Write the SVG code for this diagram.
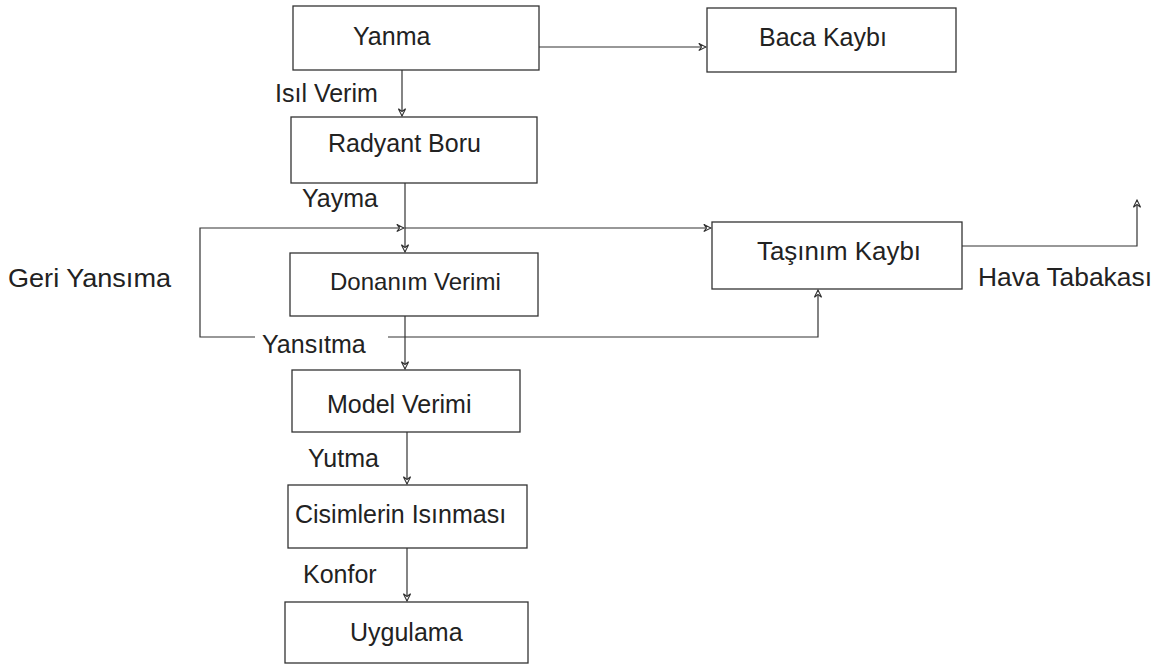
<svg xmlns="http://www.w3.org/2000/svg" width="1171" height="670" viewBox="0 0 1171 670">
<style>
.box{fill:#fff;stroke:#333;stroke-width:1.3}
.ln{fill:none;stroke:#333;stroke-width:1.2}
.t{font-family:"Liberation Sans",Arial,sans-serif;font-size:25px;fill:#222}
</style>
<defs>
<marker id="ah" viewBox="0 0 10 10" refX="9" refY="5" markerWidth="9" markerHeight="9" orient="auto" markerUnits="userSpaceOnUse">
<path d="M1,1 L9,5 L1,9 L4,5 Z" fill="#fff" stroke="#333" stroke-width="1.2"/>
</marker>
</defs>
<rect width="1171" height="670" fill="#fff"/>
<g id="connectors">
<line class="ln" x1="539" y1="47" x2="706" y2="47" marker-end="url(#ah)"/>
<line class="ln" x1="402" y1="70" x2="402" y2="116" marker-end="url(#ah)"/>
<line class="ln" x1="405" y1="183" x2="405" y2="252" marker-end="url(#ah)"/>
<polyline class="ln" points="255,337 200,337 200,228 404,228" marker-end="url(#ah)"/>
<line class="ln" x1="405" y1="228" x2="711" y2="228" marker-end="url(#ah)"/>
<polyline class="ln" points="388,337 818,337 818,290" marker-end="url(#ah)"/>
<line class="ln" x1="405" y1="316" x2="405" y2="369" marker-end="url(#ah)"/>
<line class="ln" x1="407" y1="432" x2="407" y2="484" marker-end="url(#ah)"/>
<line class="ln" x1="407" y1="548" x2="407" y2="601" marker-end="url(#ah)"/>
<polyline class="ln" points="962,246 1137,246 1137,200" marker-end="url(#ah)"/>
</g>
<g id="yanma"><rect class="box" x="293" y="6" width="246" height="64"/><text class="t" x="353" y="45">Yanma</text></g>
<g id="baca"><rect class="box" x="707" y="8" width="249" height="64"/><text class="t" x="759" y="46">Baca Kaybı</text></g>
<g id="radyant"><rect class="box" x="291" y="117" width="246" height="66"/><text class="t" x="328" y="152">Radyant Boru</text></g>
<g id="donanim"><rect class="box" x="290" y="253" width="248" height="63"/><text class="t" x="330" y="290" style="font-size:24px">Donanım Verimi</text></g>
<g id="tasinim"><rect class="box" x="712" y="222" width="250" height="67"/><text class="t" x="757" y="260" textLength="164" lengthAdjust="spacingAndGlyphs">Taşınım Kaybı</text></g>
<g id="model"><rect class="box" x="292" y="370" width="228" height="62"/><text class="t" x="327" y="413">Model Verimi</text></g>
<g id="cisimler"><rect class="box" x="288" y="485" width="239" height="63"/><text class="t" x="295" y="523">Cisimlerin Isınması</text></g>
<g id="uygulama"><rect class="box" x="285" y="602" width="243" height="61"/><text class="t" x="350" y="641">Uygulama</text></g>
<g id="labels">
<text class="t" x="275" y="102">Isıl Verim</text>
<text class="t" x="302" y="207">Yayma</text>
<text class="t" x="8" y="287" textLength="163" lengthAdjust="spacingAndGlyphs">Geri Yansıma</text>
<text class="t" x="978" y="286" textLength="174" lengthAdjust="spacingAndGlyphs">Hava Tabakası</text>
<text class="t" x="262" y="353">Yansıtma</text>
<text class="t" x="308" y="467">Yutma</text>
<text class="t" x="303" y="583">Konfor</text>
</g>
</svg>
